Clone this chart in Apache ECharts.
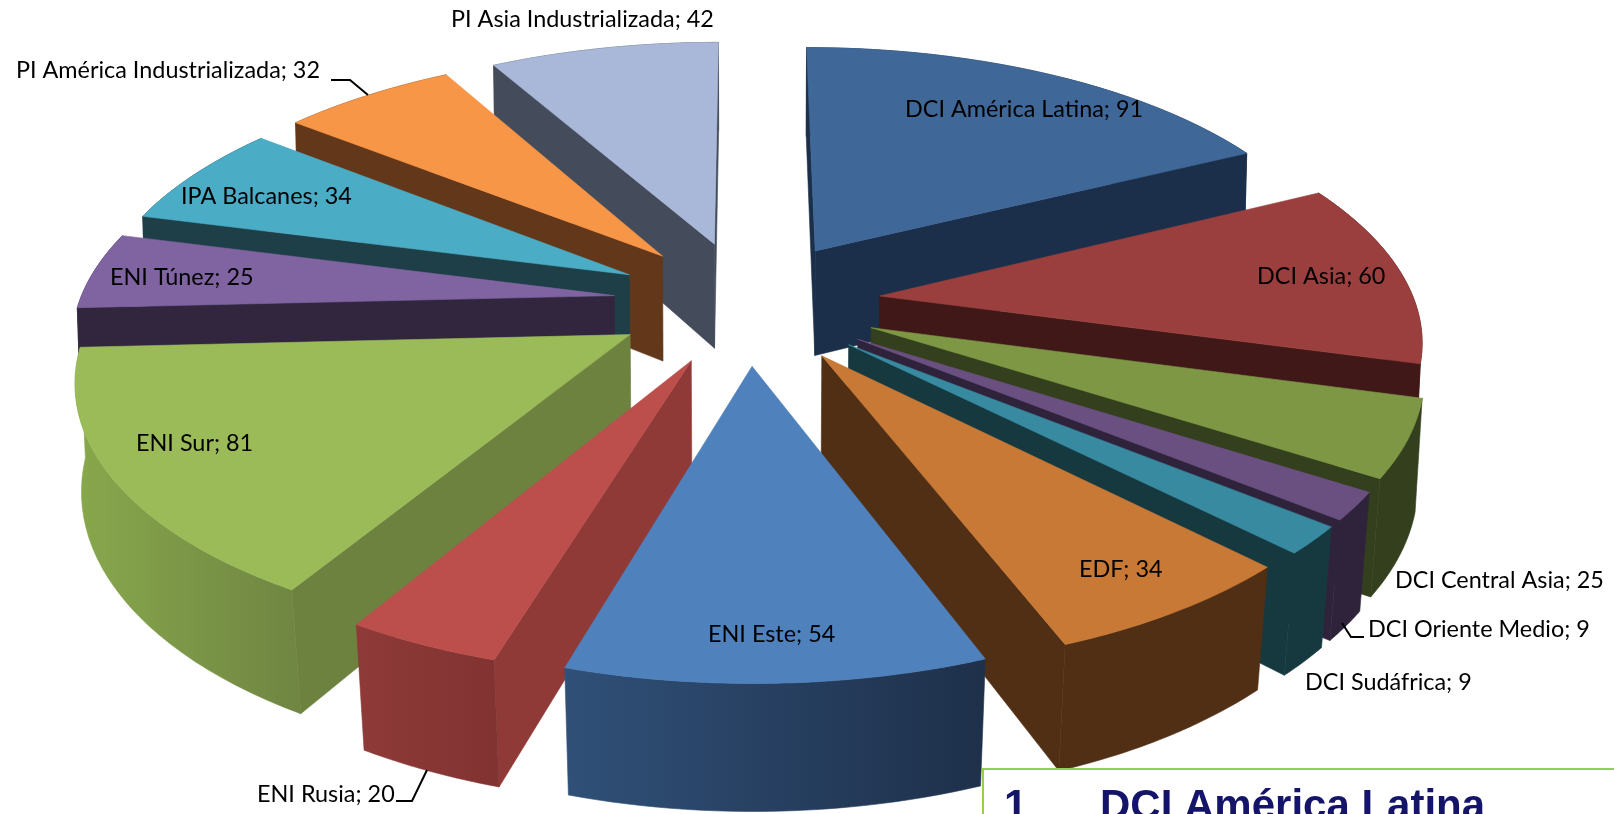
<!DOCTYPE html>
<html><head><meta charset="utf-8">
<style>html,body{margin:0;padding:0;background:#fff;overflow:hidden}#c{width:1614px;height:814px}</style>
<script src="https://cdn.jsdelivr.net/npm/echarts@6/dist/echarts.min.js"></script>
</head><body><div id="c"></div>
<script>
const categories = ['DCI América Latina','DCI Asia','DCI Central Asia','DCI Oriente Medio','DCI Sudáfrica','EDF','ENI Este','ENI Rusia','ENI Sur','ENI Túnez','IPA Balcanes','PI América Industrializada','PI Asia Industrializada'];
const values = [91,60,25,9,9,34,54,20,81,25,34,32,42];
const topColors = ['#3F6797','#9A3F3D','#7E9745','#6A5080','#378AA0','#C87935','#4F81BD','#BC4E4C','#9BBB59','#8064A2','#4BACC6','#F79646','#A9B8D8'];
const sideColors = ['#1B2F4A','#401818','#333F1D','#2F233B','#16383F','#512F15','#1E304C','#903A38','#6E8240','#32263F','#1E3F48','#63381A','#444B5A'];
const wallLeft = ['#1B2F4A','#401818','#333F1D','#2F233B','#16383F','#512F15','#305078','#8E3A38','#88A84C','#32263F','#1E3F48','#63381A','#444B5A'];
const wallRight = ['#1B2F4A','#401818','#333F1D','#2F233B','#16383F','#512F15','#1E304A','#813331','#6F8542','#32263F','#1E3F48','#63381A','#444B5A'];

const total = values.reduce((a,b)=>a+b,0);
const starts = []; values.reduce((a,v,i)=>(starts[i]=a, a+v),0);
const view = {cx:747, cy:302, A:535, B:248, k:0.15, explode:0.25, d0:108, d1:16, lean0:0.005, lean1:0.015, steps:28};
function proj(X,Y,low){
  const w = 1-view.k*Y;
  let sx = view.cx+view.A*X/w, sy = view.cy+view.B*Y/w;
  if(low){
    const lean = view.lean0+view.lean1*Math.max(0,Math.min(1,Y));
    sx = view.cx+(sx-view.cx)*(1-lean);
    sy += view.d0+view.d1*Y;
  }
  return [sx,sy];
}
function area(p){let s=0;for(let i=0;i<p.length;i++){const a=p[i],b=p[(i+1)%p.length];s+=a[0]*b[1]-b[0]*a[1];}return s/2;}
function renderItem(params, api){
  const idx = api.value(0), v = values[idx];
  const a0 = starts[idx]/total*2*Math.PI, a1 = (starts[idx]+v)/total*2*Math.PI, am=(a0+a1)/2;
  const ox = Math.sin(am)*view.explode, oy = -Math.cos(am)*view.explode;
  const arc=[]; for(let i=0;i<=view.steps;i++){const t=a0+(a1-a0)*i/view.steps; arc.push([ox+Math.sin(t),oy-Math.cos(t)]);}
  const apex=[ox,oy];
  const children=[]; const poly=(pts,fill)=>children.push({type:'polygon',shape:{points:pts},style:{fill:fill,stroke:fill,lineWidth:0.6}});
  const quad=(p,q)=>[proj(p[0],p[1]),proj(q[0],q[1]),proj(q[0],q[1],true),proj(p[0],p[1],true)];
  const w0=quad(apex,arc[0]); const w1=quad(arc[view.steps],apex);
  if(area(w0)<0) poly(w0,sideColors[idx]);
  if(area(w1)<0) poly(w1,sideColors[idx]);
  const topEdge=arc.map(p=>proj(p[0],p[1])), botEdge=arc.map(p=>proj(p[0],p[1],true)).reverse();
  poly(topEdge.concat(botEdge),{type:'linear',x:0,y:0,x2:1,y2:0,colorStops:[{offset:0,color:wallLeft[idx]},{offset:1,color:wallRight[idx]}]});
  poly([proj(apex[0],apex[1])].concat(topEdge),topColors[idx]);
  return {type:'group',children};
}
const order = values.map((v,i)=>i).sort((a,b)=>{
  const m=i=>(starts[i]+values[i]/2)/total*2*Math.PI;
  return (-Math.cos(m(a)))-(-Math.cos(m(b)));
});
const labelSpots = [[905,109],[1257,276],[1395,580],[1368,629],[1305,682],[1079,569],[708,634],[257,794],[136,443],[110,277],[181,196],[16,70],[451,19]];
const leaders = [[[331,80],[350,80],[368,95]],[[1342,623],[1351,637],[1364,637]],[[427,770],[412,801],[396,801]]];
const graphics = [
 ...leaders.map(p=>({type:'polyline',z:20,shape:{points:p},style:{stroke:'#000',lineWidth:2,fill:null}})),
 ...categories.map((c,i)=>({type:'text',z:20,x:labelSpots[i][0],y:labelSpots[i][1],style:{text:c+'; '+values[i],font:'23.4px Lato',fill:'#000',verticalAlign:'middle'}})),
 {type:'rect',z:30,shape:{x:983,y:769,width:700,height:120},style:{fill:'#fff',stroke:'#92D050',lineWidth:2}},
 {type:'text',z:31,x:1004,y:786,style:{text:'1',font:'bold 42px "Liberation Sans"',fill:'#14146B',verticalAlign:'top'}},
 {type:'text',z:31,x:1100,y:786,style:{text:'DCI América Latina',font:'bold 42px "Liberation Sans"',fill:'#14146B',verticalAlign:'top'}}
];
const chart = echarts.init(document.getElementById('c'));
chart.setOption({animation:false,backgroundColor:'#fff',
  series:[{type:'custom',coordinateSystem:'none',renderItem,silent:true,data:order.map(i=>[i,values[i]])}],
  graphic:graphics});
</script></body></html>
